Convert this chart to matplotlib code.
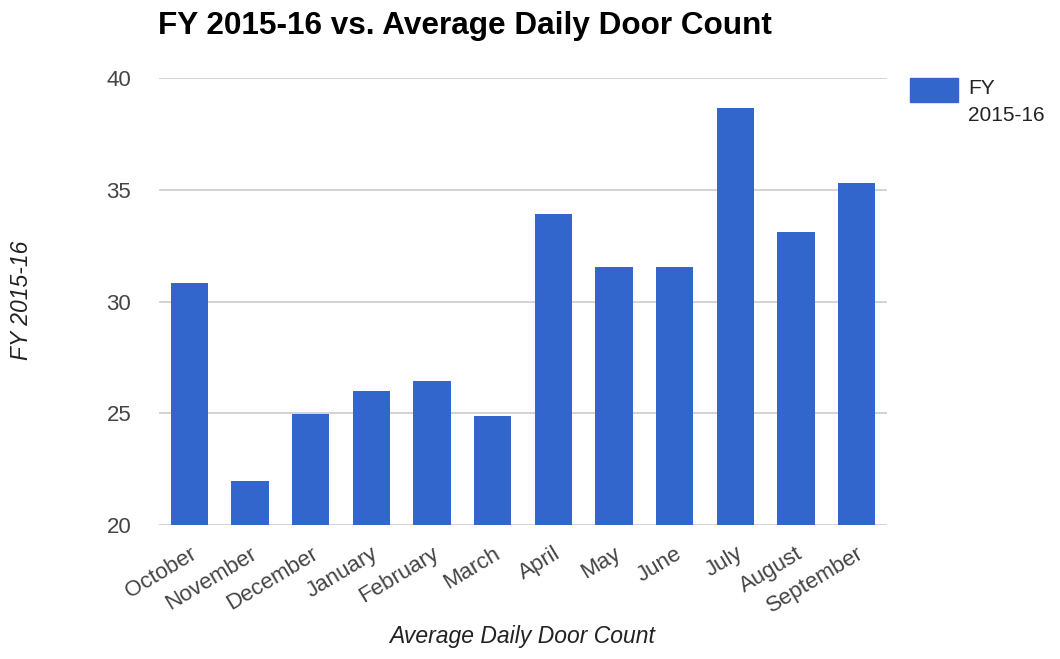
import matplotlib.pyplot as plt

plt.rcParams['font.family'] = ['Liberation Sans', 'DejaVu Sans']

months = ["October", "November", "December", "January", "February", "March",
          "April", "May", "June", "July", "August", "September"]
door_count = [30.84, 21.97, 24.98, 26.0, 26.46, 24.87,
              33.9, 31.54, 31.54, 38.64, 33.11, 35.3]
series_name = "FY 2015-16"
y_ticks = [20, 25, 30, 35, 40]

fig = plt.figure(figsize=(10.6, 6.59), dpi=100)
ax = fig.add_axes([159 / 1060, 1 - 525 / 659, 728 / 1060, 447 / 659])

x = range(len(months))
ax.bar(x, door_count, width=0.61, color="#3366cc", zorder=3)

ax.set_xlim(-0.5, len(months) - 0.5)
ax.set_ylim(20, 40)
ax.set_yticks(y_ticks)
ax.set_yticklabels([str(t) for t in y_ticks])
ax.grid(axis="y", color="#cccccc", linewidth=1.2, zorder=0)
for s in ax.spines.values():
    s.set_visible(False)
ax.tick_params(axis="both", length=0, labelsize=16, labelcolor="#444444")
ax.tick_params(axis="y", pad=20)

ax.set_xticks(list(x))
ax.set_xticklabels(months, rotation=31, ha="right", rotation_mode="anchor")
ax.tick_params(axis="x", pad=13)

fig.text(158 / 1060, 1 - 26 / 659, "FY 2015-16 vs. Average Daily Door Count",
         fontsize=22.7, fontweight="bold", color="#000000", va="center", ha="left")
fig.text(522 / 1060, 1 - 637 / 659, "Average Daily Door Count",
         fontsize=16.5, style="italic", color="#222222", ha="center", va="center")
fig.text(22 / 1060, 1 - 300 / 659, series_name,
         fontsize=16.5, style="italic", color="#222222", ha="center", va="center",
         rotation=90)

# legend drawn by hand next to the plot
fig.patches.append(plt.Rectangle((910 / 1060, 1 - 102 / 659), 48 / 1060, 24 / 659,
                                 transform=fig.transFigure, color="#3366cc"))
fig.text(968 / 1060, 1 - 79 / 659, "FY\n2015-16", fontsize=15, color="#222222",
         ha="left", va="top", linespacing=1.55)

fig.savefig("out.png", dpi=100)
